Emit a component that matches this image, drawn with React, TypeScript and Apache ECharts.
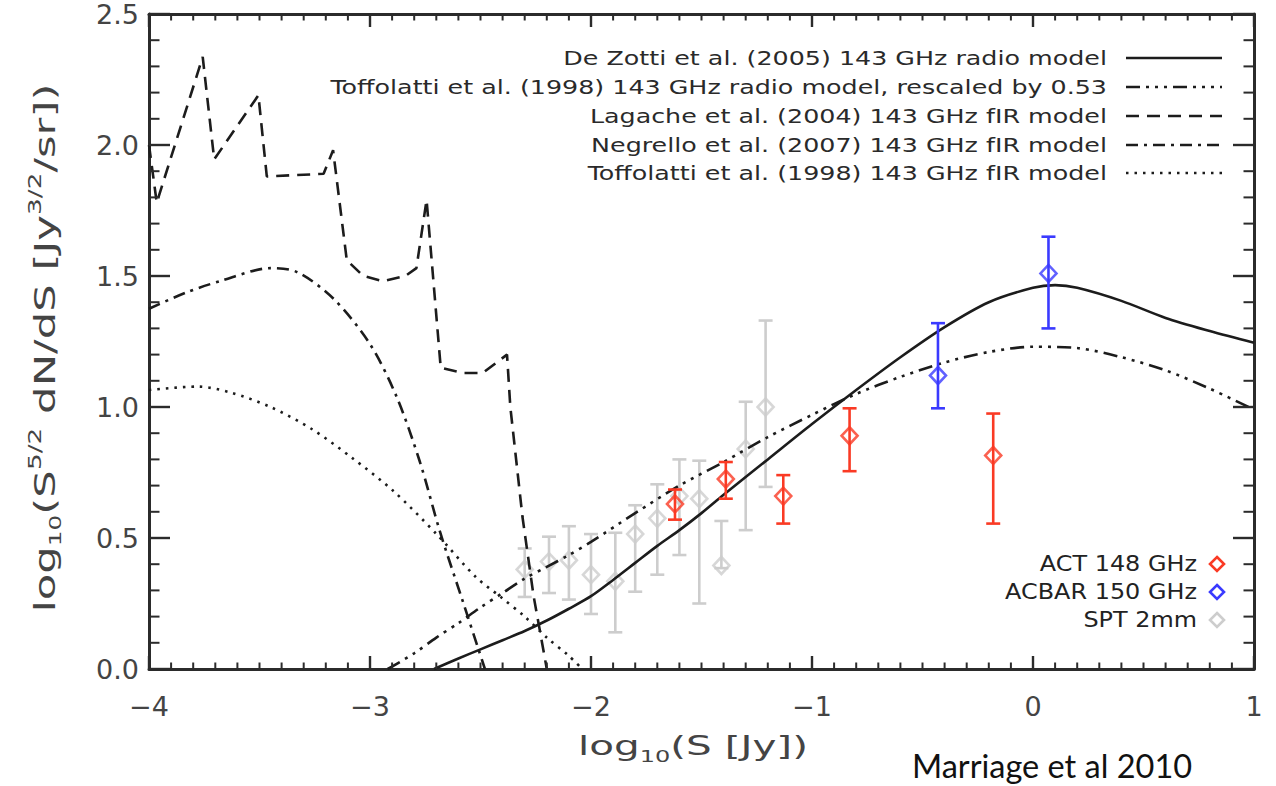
import React, { useEffect, useRef } from "react";
import * as echarts from "echarts";

// ---- model curves: log10(S [Jy]) vs log10(S^{5/2} dN/dS) ----
const deZottiX = [-2.71, -2.6, -2.5, -2.4, -2.3, -2.2, -2.1, -2.0, -1.9, -1.8, -1.7, -1.6, -1.5, -1.4, -1.2, -1.0, -0.8, -0.6, -0.4, -0.2, 0.0, 0.1, 0.2, 0.4, 0.6, 0.8, 1.0];
const deZottiY = [0.0, 0.04, 0.075, 0.11, 0.145, 0.185, 0.23, 0.278, 0.34, 0.405, 0.47, 0.53, 0.595, 0.665, 0.8, 0.935, 1.065, 1.19, 1.305, 1.4, 1.455, 1.465, 1.455, 1.405, 1.34, 1.29, 1.245];

const toffRadioX = [-2.92, -2.8, -2.7, -2.6, -2.5, -2.4, -2.3, -2.2, -2.1, -2.0, -1.8, -1.6, -1.4, -1.2, -1.0, -0.8, -0.6, -0.4, -0.2, 0.0, 0.2, 0.4, 0.6, 0.8, 1.0];
const toffRadioY = [0.0, 0.06, 0.12, 0.175, 0.235, 0.29, 0.345, 0.39, 0.435, 0.485, 0.595, 0.7, 0.79, 0.885, 0.97, 1.05, 1.115, 1.17, 1.21, 1.23, 1.225, 1.19, 1.14, 1.07, 0.99];

const lagacheX = [-4.0, -3.965, -3.757, -3.705, -3.505, -3.467, -3.21, -3.167, -3.105, -3.03, -2.94, -2.84, -2.79, -2.744, -2.68, -2.58, -2.49, -2.38, -2.365, -2.31, -2.26, -2.2];
const lagacheY = [2.0, 1.78, 2.336, 1.945, 2.19, 1.88, 1.89, 1.98, 1.56, 1.5, 1.48, 1.5, 1.53, 1.79, 1.15, 1.13, 1.13, 1.2, 1.0, 0.58, 0.28, 0.0];

const negrelloX = [-4.0, -3.83, -3.68, -3.45, -3.33, -3.166, -3.0, -2.88, -2.774, -2.683, -2.58, -2.48];
const negrelloY = [1.375, 1.4375, 1.48, 1.53, 1.515, 1.414, 1.24, 1.04, 0.79, 0.523, 0.258, 0.0];

const toffFirX = [-4.0, -3.78, -3.63, -3.45, -3.26, -3.08, -2.895, -2.7, -2.52, -2.41, -2.3, -2.2, -2.1, -2.04];
const toffFirY = [1.065, 1.078, 1.055, 1.0, 0.914, 0.805, 0.68, 0.516, 0.35, 0.276, 0.2, 0.12, 0.05, 0.0];

// ---- measured counts ----
const actX = [-1.62, -1.39, -1.13, -0.83, -0.18];
const actY = [0.63, 0.725, 0.66, 0.89, 0.815];
const actLo = [0.57, 0.65, 0.555, 0.755, 0.555];
const actHi = [0.685, 0.79, 0.74, 0.995, 0.975];

const acbarX = [-0.43, 0.07];
const acbarY = [1.12, 1.51];
const acbarLo = [0.995, 1.3];
const acbarHi = [1.32, 1.65];

const sptX = [-2.3, -2.19, -2.1, -2.0, -1.89, -1.8, -1.7, -1.6, -1.51, -1.41, -1.3, -1.21];
const sptY = [0.38, 0.41, 0.415, 0.36, 0.335, 0.515, 0.575, 0.66, 0.65, 0.395, 0.84, 1.0];
const sptLo = [0.275, 0.29, 0.265, 0.21, 0.14, 0.295, 0.36, 0.435, 0.25, 0.385, 0.53, 0.695];
const sptHi = [0.46, 0.505, 0.545, 0.515, 0.52, 0.625, 0.705, 0.8, 0.795, 0.565, 1.02, 1.33];

// ---- axis ranges, tick labels and legend texts ----
const X_MIN = -4;
const X_MAX = 1;
const Y_MIN = 0;
const Y_MAX = 2.5;
const xTickLabels = ["\u22124", "\u22123", "\u22122", "\u22121", "0", "1"];
const yTickLabels = ["0.0", "0.5", "1.0", "1.5", "2.0", "2.5"];
const modelNames = [
  "De Zotti et al. (2005) 143 GHz radio model",
  "Toffolatti et al. (1998) 143 GHz radio model, rescaled by 0.53",
  "Lagache et al. (2004) 143 GHz fIR model",
  "Negrello et al. (2007) 143 GHz fIR model",
  "Toffolatti et al. (1998) 143 GHz fIR model",
];
const dataNames = ["ACT 148 GHz", "ACBAR 150 GHz", "SPT 2mm"];
const credit = "Marriage et al 2010";

const FONT = '"DejaVu Sans", sans-serif';
const INK = "#1c1c1c";
const AXIS = "#2b2b2b";
const LABEL = "#444444";
const RED = "#fa3a24";
const BLUE = "#3a3aff";
const GREY = "#cdcdcd";

const DASHES: (number[] | "solid")[] = [
  "solid",
  [14, 6, 3, 6, 3, 6, 3, 6],
  [13, 8],
  [12, 6, 3, 6],
  [2.5, 6],
];

const zip = (xs: number[], ys: number[]) => xs.map((x, i) => [x, ys[i]]);

function measure(text: string, font: string): number {
  const ctx = document.createElement("canvas").getContext("2d");
  if (!ctx) return 1;
  ctx.font = font;
  return ctx.measureText(text).width;
}

function curve(name: string, xs: number[], ys: number[], dash: number[] | "solid", smooth: number) {
  return {
    type: "line",
    name,
    data: zip(xs, ys),
    showSymbol: false,
    symbol: "none",
    smooth,
    silent: true,
    z: 3,
    lineStyle: { color: INK, width: 2.6, type: dash },
  };
}

function errorBars(xs: number[], lo: number[], hi: number[], color: string, z: number) {
  return {
    type: "custom",
    data: xs.map((x, i) => [x, lo[i], hi[i]]),
    encode: { x: 0, y: [1, 2] },
    silent: true,
    z,
    renderItem: (_params: any, api: any) => {
      const top = api.coord([api.value(0), api.value(2)]);
      const bot = api.coord([api.value(0), api.value(1)]);
      const w = 7;
      const style = { stroke: color, lineWidth: 2.6 };
      return {
        type: "group",
        children: [
          { type: "line", shape: { x1: top[0], y1: top[1], x2: bot[0], y2: bot[1] }, style },
          { type: "line", shape: { x1: top[0] - w, y1: top[1], x2: top[0] + w, y2: top[1] }, style },
          { type: "line", shape: { x1: bot[0] - w, y1: bot[1], x2: bot[0] + w, y2: bot[1] }, style },
        ],
      };
    },
  };
}

function markers(xs: number[], ys: number[], color: string, z: number) {
  return {
    type: "scatter",
    data: zip(xs, ys),
    symbol: "diamond",
    symbolSize: [16, 17],
    silent: true,
    z,
    itemStyle: { color: "rgba(255,255,255,0)", borderColor: color, borderWidth: 2.6 },
  };
}

// inward ticks on all four sides of the frame: every 0.1 in x and y, longer at labelled values
function xTickSeries() {
  const data: number[][] = [];
  for (let i = 0; i <= (X_MAX - X_MIN) * 10; i++) data.push([X_MIN + i / 10, Y_MIN, i % 10 === 0 ? 1 : 0]);
  return {
    type: "custom",
    data,
    encode: { x: 0, y: 1 },
    silent: true,
    z: 6,
    renderItem: (params: any, api: any) => {
      const cs = params.coordSys;
      const px = api.coord([api.value(0), Y_MIN])[0];
      const major = api.value(2) === 1;
      const len = major ? 13 : 6.5;
      const style = { stroke: AXIS, lineWidth: major ? 2.4 : 2 };
      const bottom = cs.y + cs.height;
      return {
        type: "group",
        children: [
          { type: "line", shape: { x1: px, y1: bottom, x2: px, y2: bottom - len }, style },
          { type: "line", shape: { x1: px, y1: cs.y, x2: px, y2: cs.y + len }, style },
        ],
      };
    },
  };
}

function yTickSeries() {
  const data: number[][] = [];
  for (let i = 0; i <= (Y_MAX - Y_MIN) * 10; i++) data.push([X_MIN, Y_MIN + i / 10, i % 5 === 0 ? 1 : 0]);
  return {
    type: "custom",
    data,
    encode: { x: 0, y: 1 },
    silent: true,
    z: 6,
    renderItem: (params: any, api: any) => {
      const cs = params.coordSys;
      const py = api.coord([X_MIN, api.value(1)])[1];
      const major = api.value(2) === 1;
      const len = major ? 21 : 10.5;
      const style = { stroke: AXIS, lineWidth: major ? 2.4 : 2 };
      const right = cs.x + cs.width;
      return {
        type: "group",
        children: [
          { type: "line", shape: { x1: cs.x, y1: py, x2: cs.x + len, y2: py }, style },
          { type: "line", shape: { x1: right, y1: py, x2: right - len, y2: py }, style },
        ],
      };
    },
  };
}

function axisX(position: "top" | "bottom", labels: boolean) {
  return {
    type: "value",
    position,
    min: X_MIN,
    max: X_MAX,
    interval: 1,
    axisLine: { show: true, onZero: false, lineStyle: { color: AXIS, width: 3 } },
    axisTick: { show: false },
    minorTick: { show: false },
    splitLine: { show: false },
    axisLabel: labels
      ? {
          show: true,
          margin: 24,
          formatter: (v: number) => `{t|${xTickLabels[Math.round(v - X_MIN)] ?? ""}}`,
          rich: { t: { fontSize: 27, fontFamily: FONT, color: LABEL } },
        }
      : { show: false },
  };
}

function axisY(position: "left" | "right", labels: boolean) {
  return {
    type: "value",
    position,
    min: Y_MIN,
    max: Y_MAX,
    interval: 0.5,
    axisLine: { show: true, onZero: false, lineStyle: { color: AXIS, width: 3 } },
    axisTick: { show: false },
    minorTick: { show: false },
    splitLine: { show: false },
    axisLabel: labels
      ? {
          show: true,
          margin: 10,
          formatter: (v: number) => `{t|${yTickLabels[Math.round(v / 0.5)] ?? ""}}`,
          rich: { t: { fontSize: 27, fontFamily: FONT, color: LABEL } },
        }
      : { show: false },
  };
}

function diamond(cx: number, cy: number, r: number) {
  return [
    [cx, cy - r],
    [cx + r, cy],
    [cx, cy + r],
    [cx - r, cy],
  ];
}

export default function App() {
  const ref = useRef<HTMLDivElement>(null);

  useEffect(() => {
    if (!ref.current) return;
    const chart = echarts.init(ref.current, undefined, { renderer: "svg" });

    // legend text widths, widened to the plot's letter spacing
    const legendScale = 777 / measure(modelNames[1], `20px ${FONT}`);
    const dataScale = 192 / measure(dataNames[1], `21px ${FONT}`);

    const legendRight = 1107;
    const legendRows = [58, 87, 116, 145, 173];
    const modelLegend: any[] = [];
    modelNames.forEach((name, i) => {
      modelLegend.push({
        type: "text",
        x: legendRight,
        y: legendRows[i],
        scaleX: legendScale,
        z: 20,
        style: {
          text: name,
          fontSize: 20,
          fontFamily: FONT,
          fill: "#2a2a2a",
          align: "right",
          verticalAlign: "middle",
        },
      });
      const dash = DASHES[i];
      modelLegend.push({
        type: "line",
        z: 20,
        shape: { x1: 1126, y1: legendRows[i], x2: 1222, y2: legendRows[i] },
        style: {
          stroke: INK,
          lineWidth: 2.6,
          lineDash: dash === "solid" ? null : dash,
        },
      });
    });

    const dataRows = [564, 592, 620];
    const dataColors = [RED, BLUE, GREY];
    const dataLegend: any[] = [];
    dataNames.forEach((name, i) => {
      dataLegend.push({
        type: "text",
        x: 1197,
        y: dataRows[i],
        scaleX: dataScale,
        z: 20,
        style: {
          text: name,
          fontSize: 21,
          fontFamily: FONT,
          fill: "#222",
          align: "right",
          verticalAlign: "middle",
        },
      });
      dataLegend.push({
        type: "polygon",
        z: 20,
        shape: { points: diamond(1217, dataRows[i], 7) },
        style: { fill: "none", stroke: dataColors[i], lineWidth: 2.6 },
      });
    });

    const option: any = {
      animation: false,
      grid: { left: 149, right: 22, top: 14, bottom: 117 },
      xAxis: [axisX("bottom", true), axisX("top", false)],
      yAxis: [axisY("left", true), axisY("right", false)],
      series: [
        errorBars(sptX, sptLo, sptHi, GREY, 1),
        markers(sptX, sptY, GREY, 1),
        curve(modelNames[0], deZottiX, deZottiY, "solid", 0.3),
        curve(modelNames[1], toffRadioX, toffRadioY, DASHES[1] as number[], 0.3),
        curve(modelNames[2], lagacheX, lagacheY, DASHES[2] as number[], 0),
        curve(modelNames[3], negrelloX, negrelloY, DASHES[3] as number[], 0.3),
        curve(modelNames[4], toffFirX, toffFirY, DASHES[4] as number[], 0.3),
        errorBars(actX, actLo, actHi, RED, 4),
        markers(actX, actY, RED, 4),
        errorBars(acbarX, acbarLo, acbarHi, BLUE, 4),
        markers(acbarX, acbarY, BLUE, 4),
        xTickSeries(),
        yTickSeries(),
      ],
      graphic: [
        {
          type: "text",
          x: 45,
          y: 348,
          rotation: Math.PI / 2,
          scaleX: 1.55,
          z: 20,
          style: {
            text: "{n|log}{s|10}{n|(S}{p|5/2}{n| dN/dS [Jy}{p|3/2}{n|/sr])}",
            align: "center",
            verticalAlign: "middle",
            fill: LABEL,
            rich: {
              n: { fontSize: 28, fontFamily: FONT, fill: LABEL, lineHeight: 38, verticalAlign: "middle" },
              s: { fontSize: 16, fontFamily: FONT, fill: LABEL, lineHeight: 16, verticalAlign: "bottom" },
              p: { fontSize: 17, fontFamily: FONT, fill: LABEL, lineHeight: 17, verticalAlign: "top" },
            },
          },
        },
        {
          type: "text",
          x: 693,
          y: 746,
          scaleX: 1.5,
          z: 20,
          style: {
            text: "{n|log}{s|10}{n|(S [Jy])}",
            align: "center",
            verticalAlign: "middle",
            fill: LABEL,
            rich: {
              n: { fontSize: 27, fontFamily: FONT, fill: LABEL, lineHeight: 38, verticalAlign: "middle" },
              s: { fontSize: 16, fontFamily: FONT, fill: LABEL, lineHeight: 16, verticalAlign: "bottom" },
            },
          },
        },
        ...modelLegend,
        ...dataLegend,
        {
          type: "text",
          x: 912,
          y: 765,
          z: 20,
          style: {
            text: credit,
            fontSize: 32.5,
            lineHeight: 34,
            fontFamily: "Lato, sans-serif",
            fill: "#111",
            align: "left",
            verticalAlign: "middle",
          },
        },
      ],
    };

    chart.setOption(option);
    return () => chart.dispose();
  }, []);

  return (
    <div
      ref={ref}
      style={{ position: "absolute", left: 0, top: 0, width: 1276, height: 786, background: "#fff" }}
    />
  );
}
